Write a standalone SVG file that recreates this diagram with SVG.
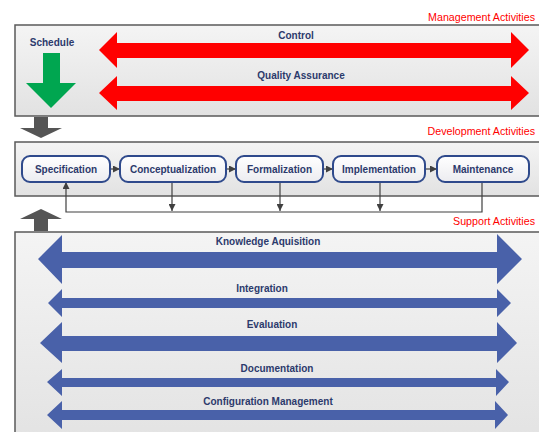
<svg xmlns="http://www.w3.org/2000/svg" width="539" height="432" viewBox="0 0 539 432">
<defs>
<linearGradient id="boxg" x1="0" y1="0" x2="0" y2="1"><stop offset="0" stop-color="#f4f4f4"/><stop offset="1" stop-color="#e2e2e2"/></linearGradient>
<linearGradient id="nodeg" x1="0" y1="0" x2="0" y2="1"><stop offset="0" stop-color="#ffffff"/><stop offset="1" stop-color="#ececf0"/></linearGradient>
<marker id="ah" viewBox="0 0 10 10" refX="10" refY="5" markerWidth="7" markerHeight="7" markerUnits="userSpaceOnUse" orient="auto"><path d="M0,0 L10,5 L0,10 z" fill="#404040"/></marker>
</defs>
<style>
.box{fill:url(#boxg);stroke:#5a5a5a;stroke-width:1.5}
.node{fill:url(#nodeg);stroke:#2f4a8c;stroke-width:2}
.lbl{font-family:"Liberation Sans",Arial,sans-serif;font-weight:bold;font-size:10px;fill:#2c3a6c;text-anchor:middle}
.sec{font-family:"Liberation Sans",Arial,sans-serif;font-size:10.7px;fill:#ff0000;text-anchor:end}
.red{fill:#ff0000}
.blue{fill:#4961a9}
.gray{fill:#555555}
.con{stroke:#404040;stroke-width:1.2;fill:none}
</style>
<rect width="539" height="432" fill="#ffffff"/>
<g id="management">
<rect class="box" x="15" y="25" width="540" height="91"/>
<text class="sec" x="535" y="21">Management Activities</text>
<g id="schedule">
<polygon points="43,53 60,53 60,83 76,83 51,108 26,83 43,83" fill="#00a650"/>
<text class="lbl" x="52" y="46">Schedule</text>
</g>
<g id="control">
<polygon class="red" points="99,50 117,32 117,43 511,43 511,32 529,50 511,68 511,58 117,58 117,68"/>
<text class="lbl" x="296" y="39">Control</text>
</g>
<g id="qa">
<polygon class="red" points="99,93 117,76 117,86 511,86 511,76 529,93 511,110 511,101 117,101 117,110"/>
<text class="lbl" x="301" y="79">Quality Assurance</text>
</g>
</g>
<polygon id="mgmt-to-dev" class="gray" points="34,117 48,117 48,128 62,128 41,138 20,128 34,128"/>
<polygon id="support-to-dev" class="gray" points="41,209 62,219 48,219 48,231 34,231 34,219 20,219"/>
<g id="development">
<rect class="box" x="15" y="142" width="540" height="54"/>
<text class="sec" x="535" y="135">Development Activities</text>
</g>
<g id="connectors">
<line class="con" x1="110" y1="169" x2="120" y2="169" marker-end="url(#ah)"/>
<line class="con" x1="226" y1="169" x2="236" y2="169" marker-end="url(#ah)"/>
<line class="con" x1="323" y1="169" x2="333" y2="169" marker-end="url(#ah)"/>
<line class="con" x1="425" y1="169" x2="437" y2="169" marker-end="url(#ah)"/>
<polyline class="con" points="482,182 482,212 66,212 66,182" marker-end="url(#ah)"/>
<line class="con" x1="172" y1="182" x2="172" y2="211" marker-end="url(#ah)"/>
<line class="con" x1="280" y1="182" x2="280" y2="211" marker-end="url(#ah)"/>
<line class="con" x1="380" y1="182" x2="380" y2="211" marker-end="url(#ah)"/>
</g>
<g id="specification"><rect class="node" x="22" y="156" width="88" height="26" rx="8"/><text class="lbl" x="66" y="172.5">Specification</text></g>
<g id="conceptualization"><rect class="node" x="120" y="156" width="106" height="26" rx="8"/><text class="lbl" x="173" y="172.5">Conceptualization</text></g>
<g id="formalization"><rect class="node" x="236" y="156" width="87" height="26" rx="8"/><text class="lbl" x="279.5" y="172.5">Formalization</text></g>
<g id="implementation"><rect class="node" x="333" y="156" width="92" height="26" rx="8"/><text class="lbl" x="379" y="172.5">Implementation</text></g>
<g id="maintenance"><rect class="node" x="437" y="156" width="92" height="26" rx="8"/><text class="lbl" x="483" y="172.5">Maintenance</text></g>
<g id="support">
<rect class="box" x="15" y="232" width="540" height="220"/>
<text class="sec" x="535" y="225">Support Activities</text>
<g id="knowledge">
<polygon class="blue" points="38,259 62,235 62,252 497,252 497,234 522,259 497,284 497,268 62,268 62,284"/>
<text class="lbl" x="268" y="245">Knowledge Aquisition</text>
</g>
<g id="integration">
<polygon class="blue" points="48,303 62,289 62,298 497,298 497,289 511,303 497,317 497,308 62,308 62,317"/>
<text class="lbl" x="262" y="292">Integration</text>
</g>
<g id="evaluation">
<polygon class="blue" points="40,343 62,322 62,336 497,336 497,322 517,343 497,363 497,351 62,351 62,363"/>
<text class="lbl" x="272" y="328">Evaluation</text>
</g>
<g id="documentation">
<polygon class="blue" points="47,382 62,369 62,378 496,378 496,369 509,382 496,396 496,387 62,387 62,396"/>
<text class="lbl" x="277" y="372">Documentation</text>
</g>
<g id="configuration">
<polygon class="blue" points="47,415 62,401 62,410 495,410 495,401 508,415 495,429 495,420 62,420 62,429"/>
<text class="lbl" x="268" y="405">Configuration Management</text>
</g>
</g>
</svg>
